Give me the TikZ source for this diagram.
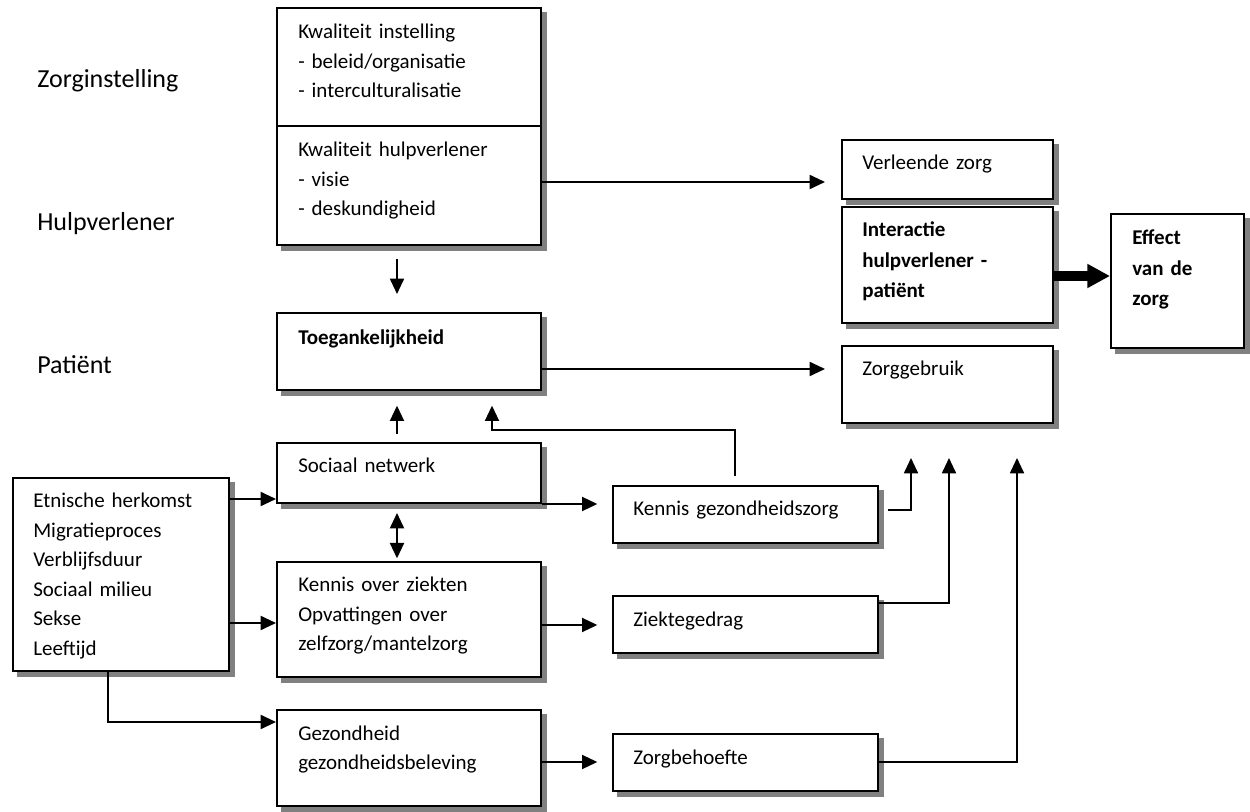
\documentclass[tikz,border=0pt]{standalone}
\usepackage{fontspec}
\setmainfont{Carlito}
\usetikzlibrary{arrows.meta,shadows,fit}
\begin{document}
\begin{tikzpicture}[x=0.75pt,y=-0.75pt,
  box/.style={draw=black, line width=1.5pt, fill=white, inner sep=0pt,
    general shadow={fill=black!50, draw=black!50, shadow xshift=4pt, shadow yshift=-4pt}},
  txt/.style={anchor=base west, inner sep=0pt, align=left, text width=10cm,
    font=\fontsize{15.75pt}{22.1pt}\selectfont},
  btxt/.style={txt, font=\fontsize{15.75pt}{22.6pt}\selectfont\bfseries},
  lbl/.style={anchor=base west, inner sep=0pt, font=\fontsize{19.5pt}{24pt}\selectfont},
  arr/.style={line width=1.4pt, -{Triangle[length=11.5pt,width=10.5pt]}},
  arrtwo/.style={line width=1.4pt, {Triangle[length=11.5pt,width=10.5pt]}-{Triangle[length=11.5pt,width=10.5pt]}},
  fat/.style={line width=7pt, -{Triangle[length=17pt,width=17pt]}}
]
\useasboundingbox (0,0) rectangle (1250,812);

% boxes
\node[box, fit={(277,8) (541,245)}] (kwal) {};
\coordinate (dv) at (0,126);
\draw[line width=1.5pt] (kwal.west |- dv) -- (kwal.east |- dv);
\node[box, fit={(842,140) (1053,199)}] (verl) {};
\node[box, fit={(842,207) (1053,323)}] (inter) {};
\node[box, fit={(1111,214) (1244,348)}] (eff) {};
\node[box, fit={(842,346) (1053,423)}] (zorgg) {};
\node[box, fit={(277,313) (541,390)}] (toeg) {};
\node[box, fit={(277,443) (541,503)}] (soc) {};
\node[box, fit={(277,562) (541,677)}] (koz) {};
\node[box, fit={(277,710) (541,806)}] (gez) {};
\node[box, fit={(13,478) (229,671)}] (left) {};
\node[box, fit={(613,486) (878,543)}] (kg) {};
\node[box, fit={(613,596) (878,653)}] (zg) {};
\node[box, fit={(613,734) (878,791)}] (zb) {};

% texts
\node[txt] (tki) at (298,39) {Kwaliteit instelling\\- beleid/organisatie\\- interculturalisatie};
\node[txt] (tkh) at (298,157) {Kwaliteit hulpverlener\\- visie\\- deskundigheid};
\node[txt] (tverl) at (862,170) {Verleende zorg};
\node[btxt] (tinter) at (862,237) {Interactie\\hulpverlener -\\patiënt};
\node[btxt] (teff) at (1132,245) {Effect\\van de\\zorg};
\node[txt] (tzorgg) at (862,376) {Zorggebruik};
\node[btxt] (ttoeg) at (298,345) {Toegankelijkheid};
\node[txt] (tsoc) at (298,473) {Sociaal netwerk};
\node[txt] (tkg) at (633,516) {Kennis gezondheidszorg};
\node[txt] (tkoz) at (298,592) {Kennis over ziekten\\Opvattingen over\\zelfzorg/mantelzorg};
\node[txt] (tzg) at (633,627) {Ziektegedrag};
\node[txt] (tzb) at (633,764) {Zorgbehoefte};
\node[txt] (tgez) at (298,740) {Gezondheid\\gezondheidsbeleving};
\node[txt] (tleft) at (33,508) {Etnische herkomst\\Migratieproces\\Verblijfsduur\\Sociaal milieu\\Sekse\\Leeftijd};

\node[lbl] (lzi) at (37,88) {Zorginstelling};
\node[lbl] (lhv) at (37,231) {Hulpverlener};
\node[lbl] (lpa) at (37,374) {Patiënt};

% helper coordinates
\coordinate (yv) at (0,182);
\coordinate (xa) at (397,0);
\coordinate (yt) at (0,369);
\coordinate (k1) at (735,430);
\coordinate (k2) at (492,430);
\coordinate (y1) at (0,499);
\coordinate (y2) at (0,623);
\coordinate (g1) at (108,722);
\coordinate (y3) at (0,625);
\coordinate (y4) at (0,762);
\coordinate (y5) at (0,510);
\coordinate (y6) at (0,603);
\coordinate (t1) at (911,458);
\coordinate (t2) at (949,458);
\coordinate (t3) at (1017,458);
\coordinate (y7) at (0,276);

% connectors
\draw[arr, shorten >=12pt] (kwal.east |- yv) -- (verl.west |- yv);
\draw[arr, shorten <=10pt, shorten >=13.5pt] (kwal.south -| xa) -- (toeg.north -| xa);
\draw[arr, shorten >=12pt] (toeg.east |- yt) -- (zorgg.west |- yt);
\draw[arr, shorten <=6pt, shorten >=11pt] (soc.north -| xa) -- (toeg.south -| xa);
\draw[arr, shorten <=7pt, shorten >=11pt] (kg.north -| k1) -- (k1) -- (k2) -- (toeg.south -| k2);
\draw[arr, shorten >=11pt] (soc.south east) -- (kg.west |- soc.south east);
\draw[arrtwo, shorten <=6.75pt, shorten >=2pt] (soc.south -| xa) -- (koz.north -| xa);
\draw[arr] (left.east |- y1) -- (soc.west |- y1);
\draw[arr] (left.east |- y2) -- (koz.west |- y2);
\draw[arr] (left.south -| g1) -- (g1) -- (gez.west |- g1);
\draw[arr, shorten >=11pt] (koz.east |- y3) -- (zg.west |- y3);
\draw[arr, shorten >=11pt] (gez.east |- y4) -- (zb.west |- y4);
\draw[arr, shorten <=6.75pt] (kg.east |- y5) -| (t1);
\draw[arr] (zg.east |- y6) -| (t2);
\draw[arr] (zb.east |- y4) -| (t3);
\draw[fat] (inter.east |- y7) -- (eff.west |- y7);
\end{tikzpicture}
\end{document}
